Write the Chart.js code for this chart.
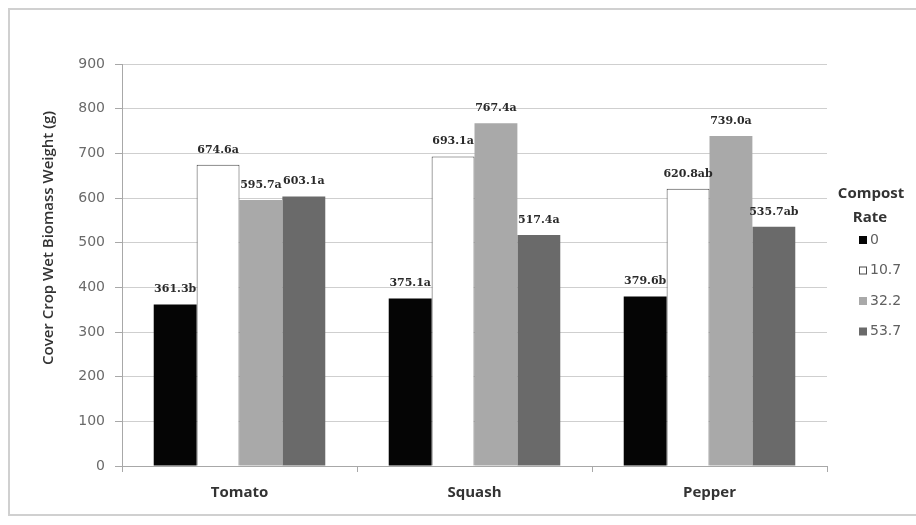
<!DOCTYPE html>
<html>
<head>
<meta charset="utf-8">
<script src="https://cdn.jsdelivr.net/npm/chart.js@4/dist/chart.umd.min.js"></script>
<style>
  html, body { margin: 0; padding: 0; background: #fff; }
  #wrap { position: relative; width: 916px; height: 525px; overflow: hidden; }
  #frame { position: absolute; left: 8px; top: 8px; width: 1100px; height: 508px;
           border: 2px solid #d0d0d0; box-sizing: border-box; }
  #c { position: absolute; left: 0; top: 0; }
</style>
</head>
<body>
<div id="wrap">
  <div id="frame"></div>
  <canvas id="c" width="916" height="525"></canvas>
</div>
<script>
// Crops and compost application rates
const crops = ['Tomato', 'Squash', 'Pepper'];
const rates = ['0', '10.7', '32.2', '53.7'];

// Mean cover crop wet biomass (g) per compost rate, in crop order
const rate0  = [361.3, 375.1, 379.6];
const rate10 = [674.6, 693.1, 620.8];
const rate32 = [595.7, 767.4, 739.0];
const rate53 = [603.1, 517.4, 535.7];

// Mean separation letters for each bar
const letters0  = ['b', 'a', 'b'];
const letters10 = ['a', 'a', 'ab'];
const letters32 = ['a', 'a', 'a'];
const letters53 = ['a', 'a', 'ab'];

const yTitle = 'Cover Crop Wet Biomass Weight (g)';
const legendTitle = ['Compost', 'Rate'];

const fills   = ['#050505', '#ffffff', '#a9a9a9', '#6a6a6a'];
const borders = ['#050505', '#4a4a4a', '#a9a9a9', '#6a6a6a'];
const seriesValues  = [rate0, rate10, rate32, rate53];
const seriesLetters = [letters0, letters10, letters32, letters53];

const datasets = rates.map((r, i) => ({
  label: r,
  data: seriesValues[i],
  letters: seriesLetters[i],
  backgroundColor: fills[i],
  borderColor: borders[i],
  borderWidth: i === 1 ? 1 : 0,
  barPercentage: 1.0,
  categoryPercentage: 0.73
}));

// Value + letter above every bar
const barLabels = {
  id: 'barLabels',
  afterDatasetsDraw(chart) {
    const ctx = chart.ctx;
    ctx.save();
    ctx.font = 'bold 11px "DejaVu Serif"';
    ctx.fillStyle = '#2a2a2a';
    ctx.textAlign = 'center';
    ctx.textBaseline = 'middle';
    chart.data.datasets.forEach((ds, di) => {
      const meta = chart.getDatasetMeta(di);
      meta.data.forEach((bar, j) => {
        const txt = ds.data[j].toFixed(1) + ds.letters[j];
        ctx.fillText(txt, bar.x, bar.y - 15);
      });
    });
    ctx.restore();
  }
};

// Rotated y-axis title
const yAxisTitle = {
  id: 'yAxisTitle',
  afterDraw(chart) {
    const ctx = chart.ctx;
    ctx.save();
    ctx.translate(49, 238);
    ctx.rotate(-Math.PI / 2);
    ctx.font = '600 15px "Open Sans"';
    ctx.fillStyle = '#333';
    ctx.textAlign = 'center';
    ctx.textBaseline = 'middle';
    ctx.fillText(yTitle, 0, 0);
    ctx.restore();
  }
};

// Legend on the right, with a two-line title
const sideLegend = {
  id: 'sideLegend',
  afterDraw(chart) {
    const ctx = chart.ctx;
    ctx.save();
    ctx.font = 'bold 15px "Open Sans"';
    ctx.fillStyle = '#333';
    ctx.textAlign = 'center';
    ctx.textBaseline = 'middle';
    ctx.fillText(legendTitle[0], 871, 194);
    ctx.fillText(legendTitle[1], 870, 218);
    ctx.font = '14px "DejaVu Sans"';
    ctx.textAlign = 'left';
    chart.data.datasets.forEach((ds, i) => {
      const y = 240 + i * 30.5;
      ctx.fillStyle = ds.backgroundColor;
      ctx.fillRect(859, y - 4, 8, 8);
      if (ds.borderWidth) {
        ctx.strokeStyle = ds.borderColor;
        ctx.lineWidth = 1;
        ctx.strokeRect(859.5, y - 3.5, 7, 7);
      }
      ctx.fillStyle = '#606060';
      ctx.fillText(ds.label, 870, y);
    });
    ctx.restore();
  }
};

new Chart(document.getElementById('c'), {
  type: 'bar',
  data: { labels: crops, datasets },
  options: {
    responsive: false,
    animation: false,
    layout: { padding: { top: 64, right: 89, bottom: 0, left: 0 } },
    plugins: {
      legend: { display: false },
      tooltip: { enabled: false }
    },
    scales: {
      x: {
        grid: { display: true, drawOnChartArea: false, tickLength: 6, color: '#a8a8a8' },
        border: { color: '#a8a8a8' },
        ticks: { color: '#333', font: { family: 'Open Sans', size: 15, weight: 'bold' }, padding: 12 },
        afterFit(s) { s.height = 59; }
      },
      y: {
        min: 0, max: 900,
        ticks: { stepSize: 100, color: '#6a6a6a', font: { family: 'DejaVu Sans', size: 14 }, padding: 10 },
        grid: { color: '#cfcfcf', tickLength: 7, tickColor: '#a8a8a8' },
        border: { color: '#a8a8a8' },
        afterFit(s) { s.width = 122; }
      }
    }
  },
  plugins: [barLabels, yAxisTitle, sideLegend]
});
</script>
</body>
</html>
